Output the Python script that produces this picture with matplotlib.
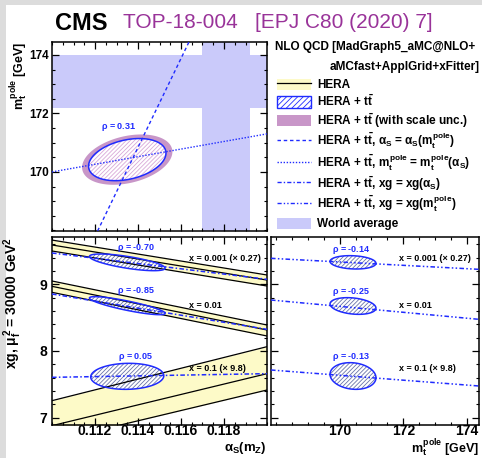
import numpy as np
import matplotlib.pyplot as plt
from matplotlib.patches import Polygon, Patch, Rectangle
from matplotlib.lines import Line2D
from matplotlib.legend_handler import HandlerPatch
from matplotlib.ticker import MultipleLocator

# axis ranges
alpha_range = [0.110, 0.120]
mt_range_top = [167.98, 174.44]
mt_range_right = [167.85, 174.37]
xg_range = [6.89, 9.71]

# HERA + ttbar fit in (alpha_s, mt)
fit_as, fit_mt = 0.1135, 170.42
fit_sig_as, fit_sig_mt, fit_rho = 0.0018, 0.72, 0.31
scale_sig_as, scale_sig_mt = 0.0021, 0.86

# world averages
wa_as, wa_as_err = 0.1181, 0.0011
wa_mt, wa_mt_err = 173.1, 0.9

# alpha_s = alpha_s(mt) and mt = mt(alpha_s) lines
as_line_as = [0.11212, 0.11637]
as_line_mt = [167.98, 174.44]
mt_line_as = [0.110, 0.120]
mt_line_mt = [170.0, 171.3]

# gluon at three x values
x_labels = ["x = 0.001 (\u00d7 0.27)", "x = 0.01", "x = 0.1 (\u00d7 9.8)"]
x_label_y = [9.39, 8.69, 7.74]
hera_upper = [[9.664, 9.14], [9.05, 8.39], [7.255, 8.065]]
hera_central = [[9.59, 9.064], [8.97, 8.315], [6.88, 7.66]]
hera_lower = [[9.50, 8.975], [8.88, 8.225], [6.645, 7.415]]

xg_left = [9.33, 8.68, 7.62]
xg_sig_left = [0.125, 0.135, 0.195]
as_sig_left = [0.00176, 0.00176, 0.0017]
rho_left = [-0.70, -0.85, 0.05]
xg_vs_as = [[9.47, 9.075], [8.855, 8.325], [7.605, 7.66]]

xg_right = [9.33, 8.675, 7.625]
xg_sig_right = [0.10, 0.125, 0.20]
rho_right = [-0.14, -0.25, -0.13]
xg_vs_mt = [[9.39, 9.225], [8.765, 8.475], [7.715, 7.475]]

blue = "#1f2bff"
hera_col = "#fdfac8"
scale_col = "#c896c8"
wa_col = "#cacafa"
hatch_col = "#6a74a8"

plt.rcParams.update({
    "font.family": "Liberation Sans",
    "font.weight": "bold",
    "axes.labelweight": "bold",
    "mathtext.fontset": "custom",
    "mathtext.rm": "Liberation Sans:bold",
    "mathtext.it": "Liberation Sans:bold",
    "mathtext.bf": "Liberation Sans:bold",
    "mathtext.sf": "Liberation Sans:bold",
    "hatch.linewidth": 0.6,
    "axes.linewidth": 1.1,
    "xtick.direction": "in", "ytick.direction": "in",
    "xtick.top": True, "ytick.right": True,
    "xtick.major.size": 5, "ytick.major.size": 5,
    "xtick.minor.size": 2.5, "ytick.minor.size": 2.5,
    "xtick.major.width": 0.9, "ytick.major.width": 0.9,
    "xtick.minor.width": 0.8, "ytick.minor.width": 0.8,
})


def ellipse(cx, cy, sx, sy, rho, n=200):
    t = np.linspace(0, 2 * np.pi, n)
    x = cx + sx * np.cos(t)
    y = cy + sy * (rho * np.cos(t) + np.sqrt(1 - rho**2) * np.sin(t))
    return np.column_stack([x, y])


def draw_fit(ax, pts, fc="white", hc=hatch_col):
    ax.add_patch(Polygon(pts, facecolor=fc, edgecolor=hc, hatch="////////", lw=0, zorder=2))
    ax.add_patch(Polygon(pts, fill=False, edgecolor=blue, lw=1.1, zorder=4))


def px(l, t, r, b):
    return [l / 482, 1 - b / 458, (r - l) / 482, (b - t) / 458]


fig = plt.figure(figsize=(4.82, 4.58), dpi=100, facecolor="#dcdcdc")
fig.patches.append(Rectangle((6 / 482, 0), 1, 1 - 5 / 458, transform=fig.transFigure,
                             facecolor="white", edgecolor="none", zorder=-10))

ax_top = fig.add_axes(px(52, 42, 267, 231))
ax_bl = fig.add_axes(px(52, 237, 267, 425))
ax_br = fig.add_axes(px(271, 237, 479, 425))

# top panel
ax_top.axhspan(wa_mt - wa_mt_err, wa_mt + wa_mt_err, color=wa_col, lw=0, zorder=1)
ax_top.axvspan(wa_as - wa_as_err, wa_as + wa_as_err, color=wa_col, lw=0, zorder=1)
ax_top.add_patch(Polygon(ellipse(fit_as, fit_mt, scale_sig_as, scale_sig_mt, fit_rho),
                         facecolor=scale_col, edgecolor="none", zorder=2))
draw_fit(ax_top, ellipse(fit_as, fit_mt, fit_sig_as, fit_sig_mt, fit_rho), hc="#d8a8d8")
ax_top.plot(as_line_as, as_line_mt, color=blue, lw=1.0, ls=(0, (2.5, 2)), zorder=5)
ax_top.plot(mt_line_as, mt_line_mt, color=blue, lw=1.0, ls=(0, (1, 1.2)), zorder=5)
ax_top.text(0.1131, 171.52, r"$\rho$ = 0.31", color=blue, fontsize=6.5, ha="center", va="center")
ax_top.set_xlim(alpha_range)
ax_top.set_ylim(mt_range_top)
ax_top.set_xticks([0.112, 0.114, 0.116, 0.118])
ax_top.xaxis.set_minor_locator(MultipleLocator(0.0005))
ax_top.tick_params(labelbottom=False)
ax_top.set_yticks([170, 172, 174])
ax_top.yaxis.set_minor_locator(MultipleLocator(0.5))
ax_top.tick_params(axis="y", labelsize=8.5, pad=2)
ax_top.set_ylabel(r"$m_t^{pole}$ [GeV]", fontsize=9, loc="top")
ax_top.yaxis.set_label_coords(-0.1, 1.0)

# bottom left: xg vs alpha_s
for i in range(3):
    ax_bl.fill_between(alpha_range, hera_lower[i], hera_upper[i], color=hera_col, lw=0, zorder=1)
    for edge in (hera_upper[i], hera_central[i], hera_lower[i]):
        ax_bl.plot(alpha_range, edge, color="black", lw=0.9, zorder=3)
    ax_bl.plot(alpha_range, xg_vs_as[i], color=blue, lw=1.1, ls=(0, (3, 1.5, 1, 1.5)), zorder=3)
    draw_fit(ax_bl, ellipse(fit_as, xg_left[i], as_sig_left[i], xg_sig_left[i], rho_left[i]))
    ax_bl.text(0.1139, xg_left[i] + xg_sig_left[i] + 0.09, r"$\rho$ = %.2f" % rho_left[i],
               color=blue, fontsize=6.5, ha="center", va="center")
    ax_bl.text(0.11637, x_label_y[i], x_labels[i], fontsize=6.5, ha="left", va="center")
ax_bl.set_xlim(alpha_range)
ax_bl.set_ylim(xg_range)
ax_bl.set_xticks([0.112, 0.114, 0.116, 0.118])
ax_bl.set_xticklabels(["0.112", "0.114", "0.116", "0.118"])
ax_bl.xaxis.set_minor_locator(MultipleLocator(0.0005))
ax_bl.set_yticks([7, 8, 9])
ax_bl.yaxis.set_minor_locator(MultipleLocator(0.2))
ax_bl.tick_params(labelsize=10)
ax_bl.tick_params(axis="x", pad=-0.5)
ax_bl.set_xlabel(r"$\alpha_S(m_Z)$", fontsize=9.5, loc="right", va="baseline")
ax_bl.xaxis.set_label_coords(1.0, -0.138)
ax_bl.set_ylabel(r"xg, $\mu_f^2$ = 30000 GeV$^2$", fontsize=10, loc="top")
ax_bl.yaxis.set_label_coords(-0.13, 1.0)

# bottom right: xg vs mt
for i in range(3):
    ax_br.plot(mt_range_right, xg_vs_mt[i], color=blue, lw=1.1, ls=(0, (3, 1.5, 1, 1.5, 1, 1.5)), zorder=3)
    draw_fit(ax_br, ellipse(fit_mt, xg_right[i], fit_sig_mt, xg_sig_right[i], rho_right[i]))
    ax_br.text(170.36, xg_right[i] + xg_sig_right[i] + 0.08, r"$\rho$ = %.2f" % rho_right[i],
               color=blue, fontsize=6.5, ha="center", va="center")
    ax_br.text(171.87, x_label_y[i], x_labels[i], fontsize=6.5, ha="left", va="center")
ax_br.set_xlim(mt_range_right)
ax_br.set_ylim(xg_range)
ax_br.set_xticks([170, 172, 174])
ax_br.xaxis.set_minor_locator(MultipleLocator(0.5))
ax_br.set_yticks([7, 8, 9])
ax_br.yaxis.set_minor_locator(MultipleLocator(0.2))
ax_br.tick_params(labelsize=10, labelleft=False)
ax_br.tick_params(axis="x", pad=-0.5)
ax_br.set_xlabel(r"$m_t^{pole}$ [GeV]", fontsize=9, loc="right", va="baseline")
ax_br.xaxis.set_label_coords(1.0, -0.146)

# title
fig.text(55 / 482, 1 - 23 / 458, "CMS", fontsize=17, fontweight="bold", va="center")
fig.text(123 / 482, 1 - 23 / 458, "TOP-18-004   [EPJ C80 (2020) 7]", fontsize=15,
         fontweight="normal", color="#993399", va="center")

# legend
fig.text(275 / 482, 1 - 47 / 458, "NLO QCD [MadGraph5_aMC@NLO+", fontsize=8.5, va="center")
fig.text(480 / 482, 1 - 67 / 458, "aMCfast+ApplGrid+xFitter]", fontsize=8.5, va="center", ha="right")


def small_patch(legend, orig_handle, xdescent, ydescent, width, height, fontsize):
    return Rectangle((-xdescent, -ydescent + 0.12 * height), width, 0.76 * height)


handles = [
    (Patch(facecolor=hera_col, edgecolor="none"), Line2D([], [], color="black", lw=0.9)),
    Patch(facecolor="white", edgecolor=blue, hatch="//////", lw=1.0),
    Patch(facecolor=scale_col, edgecolor="none"),
    Line2D([], [], color=blue, lw=1.0, ls=(0, (2.5, 2))),
    Line2D([], [], color=blue, lw=1.0, ls=(0, (1, 1.2))),
    Line2D([], [], color=blue, lw=1.0, ls=(0, (3, 1.5, 1, 1.5))),
    Line2D([], [], color=blue, lw=1.0, ls=(0, (3, 1.5, 1, 1.5, 1, 1.5))),
    Patch(facecolor=wa_col, edgecolor="none"),
]
labels = [
    "HERA",
    r"HERA + $t\bar{t}$",
    r"HERA + $t\bar{t}$ (with scale unc.)",
    r"HERA + $t\bar{t}$, $\alpha_S$ = $\alpha_S(m_t^{pole})$",
    r"HERA + $t\bar{t}$, $m_t^{pole}$ = $m_t^{pole}(\alpha_S)$",
    r"HERA + $t\bar{t}$, xg = xg($\alpha_S$)",
    r"HERA + $t\bar{t}$, xg = xg($m_t^{pole}$)",
    "World average",
]
fig.legend(handles, labels, loc="upper left", bbox_to_anchor=(277 / 482, 1 - 77 / 458),
           frameon=False, fontsize=8.5, borderpad=0, borderaxespad=0,
           handlelength=2.9, handleheight=1.55, handletextpad=0.5, labelspacing=0.12,
           handler_map={Patch: HandlerPatch(patch_func=small_patch)})

fig.savefig("out.png", dpi=100, facecolor=fig.get_facecolor())
